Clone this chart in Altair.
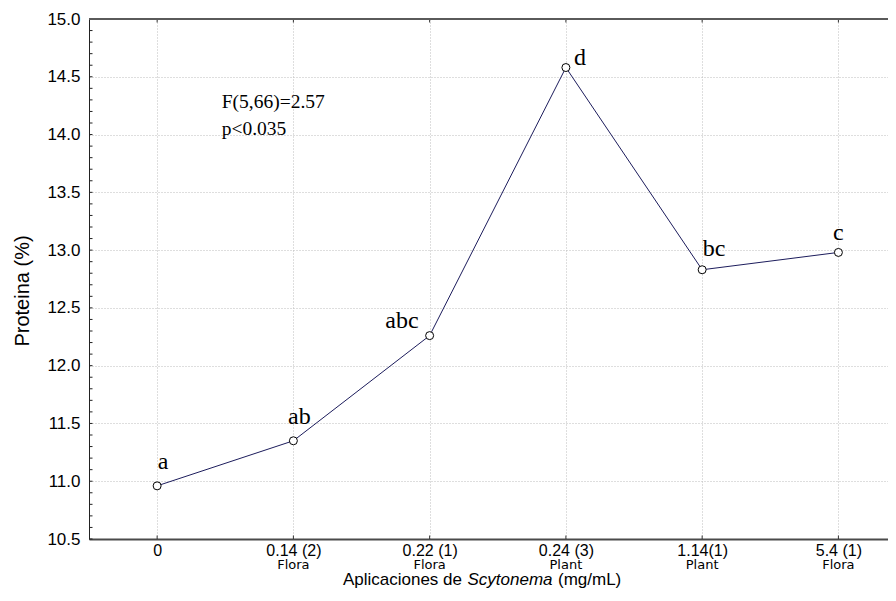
import json
import numpy as np
import pandas as pd
import altair as alt

# ---- data ----
categories = ["0", "0.14 (2)", "0.22 (1)", "0.24 (3)", "1.14(1)", "5.4 (1)"]
sources = ["", "Flora", "Flora", "Plant", "Plant", "Flora"]
protein = [10.96, 11.35, 12.26, 14.58, 12.83, 12.98]
letters = ["a", "ab", "abc", "d", "bc", "c"]
y_major = [10.5, 11.0, 11.5, 12.0, 12.5, 13.0, 13.5, 14.0, 14.5, 15.0]
stat_lines = ["F(5,66)=2.57", "p<0.035"]
x_title = ["Aplicaciones de", "Scytonema", "(mg/mL)"]
y_title = "Proteina (%)"

# plot area (right edge of the reference frame lies outside the picture)
W, H = 799, 520

df = pd.DataFrame({
    "i": list(range(len(categories))),
    "cat": categories,
    "src": sources,
    "protein": protein,
    "letter": letters,
})
one = pd.DataFrame({"k": [0]})
ytick_df = pd.DataFrame({"t": np.round(np.arange(10.5, 15.001, 0.1), 1)})

x_scale = alt.Scale(domain=[-0.5, 5.364], nice=False, zero=False)
y_scale = alt.Scale(domain=[10.5, 15.0], nice=False, zero=False)

label_expr = f"{json.dumps(categories)}[round(datum.value)]"

SANS = "Liberation Sans"
SERIF = "Liberation Serif"

x_axis = alt.Axis(
    values=list(range(len(categories))), labelExpr=label_expr, title=None,
    ticks=False, tickSize=0, labelPadding=16.5, labelBaseline="alphabetic",
    labelFontSize=16, labelFont=SANS, labelColor="black",
    labelFlush=False, labelOverlap=False,
    domainColor="#4a4a4a", domainWidth=2,
    grid=True, gridColor="#bdbdbd", gridDash=[1, 2], gridWidth=1,
)
y_axis = alt.Axis(
    values=y_major, format=".1f", title=y_title,
    ticks=False, tickSize=0, labelPadding=9, labelBaseline="middle",
    labelFontSize=17, labelFont=SANS, labelColor="black",
    labelFlush=False, labelOverlap=False,
    domainColor="#222222", domainWidth=1,
    grid=True, gridColor="#bdbdbd", gridDash=[1, 2], gridWidth=1,
    titleFont=SANS, titleFontSize=20, titleFontWeight="normal", titleColor="black",
    titleAngle=270, titleX=-60.5, titleY=271.5, titleAlign="center",
    titleBaseline="alphabetic",
)


def X(field="i"):
    return alt.X(f"{field}:Q", scale=x_scale, axis=x_axis)


def Y(field="protein"):
    return alt.Y(f"{field}:Q", scale=y_scale, axis=y_axis)


base = alt.Chart(df)

line = base.mark_line(color="#1c1c5c", strokeWidth=1).encode(x=X(), y=Y())

points = base.mark_point(
    shape="circle", filled=True, fill="white", stroke="black",
    strokeWidth=1, size=64, opacity=1
).encode(x=X(), y=Y())


def letter_layer(sel, align, dx, dy):
    return base.transform_filter(
        alt.FieldOneOfPredicate(field="letter", oneOf=sel)
    ).mark_text(
        align=align, baseline="alphabetic", dx=dx, dy=dy,
        font=SERIF, fontSize=24, color="black"
    ).encode(x=X(), y=Y(), text="letter:N")


letter_layers = [
    letter_layer(["a", "ab"], "center", 6, -17),
    letter_layer(["bc"], "center", 12, -14),
    letter_layer(["c"], "center", 0, -12),
    letter_layer(["abc"], "right", -11, -8),
    letter_layer(["d"], "left", 8, -3),
]

sub_labels = base.mark_text(
    font="DejaVu Sans", fontSize=13, baseline="alphabetic", align="center", color="black"
).encode(x=X(), y=alt.value(H + 30), text="src:N")

# inward ticks (left axis, bottom axis, top frame)
y_ticks = alt.Chart(ytick_df).mark_rule(color="#222222", strokeWidth=1).encode(
    y=Y("t"), x=alt.value(0), x2=alt.value(3.5),
)
x_ticks_bottom = base.mark_rule(color="#333333", strokeWidth=1).encode(
    x=X(), y=alt.value(H), y2=alt.value(H - 3.5),
)
x_ticks_top = base.mark_rule(color="#333333", strokeWidth=1).encode(
    x=X(), y=alt.value(0), y2=alt.value(3.5),
)
top_border = alt.Chart(one).mark_rule(color="#5a5a5a", strokeWidth=2).encode(
    x=alt.value(0), x2=alt.value(W), y=alt.value(0),
)

stats = alt.Chart(one).mark_text(
    align="left", baseline="alphabetic", font=SERIF, fontSize=19.5,
    lineHeight=27, color="black"
).encode(x=alt.value(132.7), y=alt.value(88.5), text=alt.value(stat_lines))

TY = 565.5
title_left = alt.Chart(one).mark_text(
    align="right", baseline="alphabetic", font=SANS, fontSize=17, color="black"
).encode(x=alt.value(373), y=alt.value(TY), text=alt.value(x_title[0]))
title_mid = alt.Chart(one).mark_text(
    align="center", baseline="alphabetic", font=SANS, fontSize=17,
    fontStyle="italic", color="black"
).encode(x=alt.value(421), y=alt.value(TY), text=alt.value(x_title[1]))
title_right = alt.Chart(one).mark_text(
    align="left", baseline="alphabetic", font=SANS, fontSize=17, color="black"
).encode(x=alt.value(469), y=alt.value(TY), text=alt.value(x_title[2]))

chart = alt.layer(
    line, y_ticks, x_ticks_bottom, x_ticks_top, top_border, points,
    *letter_layers, sub_labels, stats, title_left, title_mid, title_right,
).properties(
    width=W, height=H,
    autosize=alt.AutoSizeParams(type="none"),
    padding={"left": 81, "top": 11, "right": 0, "bottom": 49},
    background="white",
).configure_view(stroke=None)

chart.save("out.html", embed_options={"renderer": "svg", "actions": False})
